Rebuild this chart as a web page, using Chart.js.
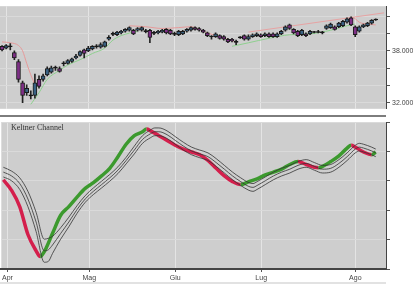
<!DOCTYPE html>
<html>
<head>
<meta charset="utf-8">
<script src="https://cdn.jsdelivr.net/npm/chart.js@4"></script>
<style>
html, body { margin: 0; padding: 0; background: #fff; }
#wrap { position: relative; width: 413px; height: 300px; overflow: hidden; }
#top { position: absolute; left: 0; top: 0; width: 413px; height: 115px; }
#bot { position: absolute; left: 0; top: 115px; width: 413px; height: 185px; }
#kc { position: absolute; left: 11px; top: 123px; font: 8px "Liberation Serif", serif; color: #333; }
</style>
</head>
<body>
<div id="wrap">
  <div id="top"><canvas id="priceChart"></canvas></div>
  <div id="bot"><canvas id="oscChart"></canvas></div>
  <div id="kc">Keltner Channel</div>
</div>
<script>
// month ticks (index of first trading day)
const monthNames = ['Apr', 'Mag', 'Giu', 'Lug', 'Ago'];
const monthStart = [1, 21, 42, 63, 86];

// price axis
const priceTicks = [32, 34, 36, 38, 40, 42];
const priceLabels = [38, 32];

// daily candles (thousands)
const candleOpen = [38.52,38.31,38.52,37.79,36.76,34.28,33.14,32.83,32.83,34.69,
  34.69,35.21,35.52,36.04,35.93,36.55,36.55,36.76,37.17,37.48,
  38.10,38.00,38.21,38.52,38.41,38.52,39.34,39.96,39.86,40.07,
  40.27,40.38,40.38,40.38,40.38,40.27,40.38,40.07,40.07,40.17,
  40.48,40.38,39.96,39.86,39.96,40.27,40.38,40.69,40.59,40.38,
  40.07,39.65,39.65,39.76,39.65,39.34,39.34,39.03,39.55,39.76,
  39.34,39.65,39.76,39.86,39.76,39.96,39.96,39.65,39.96,40.38,
  41.00,40.48,40.27,39.86,39.96,39.96,40.17,40.17,40.12,40.59,
  40.69,40.79,40.79,40.90,41.31,41.83,40.79,40.27,40.79,40.90,
  41.21,41.62];
const candleHigh = [38.62,38.72,38.83,38.00,36.97,34.48,34.07,33.35,35.31,35.10,
  35.31,36.14,36.24,36.24,36.14,36.76,36.97,37.17,37.59,38.00,
  38.21,38.52,38.62,38.72,38.93,39.14,39.76,40.17,40.27,40.38,
  40.59,40.79,40.48,40.69,40.79,40.48,40.48,40.27,40.38,40.48,
  40.59,40.48,40.17,40.38,40.38,40.59,40.79,40.79,40.69,40.48,
  40.17,39.76,40.07,39.86,39.76,39.45,39.45,39.24,39.65,39.86,
  39.86,39.96,40.07,39.96,40.07,40.07,40.07,40.07,40.38,40.90,
  41.10,40.59,40.38,40.48,40.07,40.38,40.27,40.38,40.27,41.00,
  41.21,40.90,41.31,41.52,41.83,41.93,40.90,40.90,41.10,41.31,
  41.62,41.72];
const candleLow = [38.00,38.21,38.10,36.97,34.38,32.00,32.83,32.42,32.52,33.66,
  34.48,35.10,35.42,35.73,35.52,36.24,36.45,36.66,37.07,37.38,
  37.17,37.90,38.10,38.31,38.31,38.41,39.24,39.76,39.76,39.96,
  40.17,40.27,39.86,40.27,40.27,40.07,38.93,39.86,39.96,40.07,
  39.96,39.86,39.76,39.76,39.86,40.17,40.27,40.38,40.27,40.07,
  39.65,39.34,39.55,39.34,39.24,38.93,39.03,38.72,39.45,39.24,
  39.24,39.55,39.65,39.55,39.65,39.55,39.55,39.55,39.86,40.27,
  40.48,39.96,39.65,39.76,39.65,39.86,40.07,40.07,39.96,40.48,
  40.59,40.38,40.69,40.79,41.21,40.90,39.65,40.17,40.69,40.79,
  41.10,41.52];
const candleClose = [38.10,38.62,38.47,37.17,34.69,32.83,33.66,32.78,34.28,33.86,
  35.10,35.93,36.04,35.99,35.62,36.50,36.86,37.07,37.38,37.90,
  37.69,38.31,38.52,38.47,38.72,39.03,39.55,39.91,40.17,40.27,
  40.48,40.69,39.96,40.59,40.69,40.22,39.55,40.02,40.27,40.38,
  40.07,39.96,39.91,40.27,40.27,40.48,40.69,40.48,40.38,40.17,
  39.76,39.60,39.96,39.45,39.34,39.03,39.14,38.98,39.50,39.34,
  39.65,39.86,39.96,39.65,39.96,39.65,39.65,39.96,40.27,40.79,
  40.59,40.07,39.76,40.38,39.76,40.27,40.12,40.12,40.07,40.90,
  41.10,40.48,41.21,41.41,41.72,41.00,39.86,40.79,41.00,41.21,
  41.52,41.57];

// stop lines on the price panel [day, value]
const stopA = [[0,39.03],[2,38.93],[4,38.62],[5,38.00],[6,36.55],[7,35.21],[8,34.07]];
const stopB = [[31,40.90],[35,40.79],[39,40.59],[43,40.69],[46,40.79],[49,40.27],[52,39.76],[55,39.34],[57,39.03]];
const stopC = [[85,41.93],[86,41.72],[87,41.31],[89,41.10],[91,41.00]];
const trendLine = [[60,40.17],[93,42.40]];
const trailA = [[7,31.80],[9,33.14],[11,34.69],[14,35.73],[16,36.35],[19,36.97],[22,37.69],[25,38.31],[27,39.24],[29,39.76],[33,40.27]];
const trailB = [[56,38.52],[60,38.93],[65,39.45],[70,39.86],[75,39.96],[80,40.38],[84,40.90],[86,41.10]];

// keltner panel [day, value]
const kcLine = [[0,6.08],[2,5.36],[4,4.25],[6,2.35],[8,1.24],[9,0.85],[10,1.18],[12,2.42],[14,3.66],[16,4.25],
  [18,4.90],[20,5.49],[22,5.88],[24,6.34],[26,6.86],[28,7.65],[30,8.50],[32,9.08],[34,9.35],[35,9.54],
  [36,9.41],[38,9.08],[40,8.76],[42,8.43],[44,8.17],[46,7.97],[48,7.78],[50,7.39],[52,6.86],[54,6.34],
  [56,5.95],[58,5.75],[60,5.95],[62,6.14],[64,6.41],[66,6.60],[68,6.80],[70,7.12],[72,7.32],[74,7.12],
  [76,6.93],[77,6.90],[78,6.99],[80,7.32],[82,7.71],[84,8.24],[85,8.43],[86,8.30],[88,7.97],[90,7.78],[91,7.97]];
const kcDays = [0,2,4,6,8,10,11,12,14,16,18,20,22,24,26,28,30,32,34,36,37,38,40,42,44,46,48,50,52,54,56,58,60,61,62,64,66,68,70,72,74,76,78,80,82,84,86,87,88,90,91];
const kcUpper = [6.93,6.67,6.21,5.29,3.86,2.03,2.09,2.22,2.81,3.53,4.31,5.00,5.52,5.98,6.44,6.96,7.61,8.37,9.08,9.48,9.61,9.61,9.41,9.02,8.63,8.30,8.10,7.91,7.52,7.06,6.60,6.21,5.88,5.82,5.95,6.27,6.60,6.86,7.06,7.32,7.45,7.25,7.06,7.12,7.45,7.91,8.43,8.56,8.50,8.30,8.17];
const kcMiddle = [6.60,6.34,5.82,4.77,3.20,1.24,1.31,1.63,2.42,3.20,4.05,4.77,5.29,5.75,6.21,6.73,7.39,8.10,8.82,9.22,9.35,9.35,9.15,8.76,8.37,8.04,7.84,7.65,7.25,6.80,6.34,5.95,5.62,5.56,5.69,6.01,6.34,6.60,6.80,7.06,7.19,6.99,6.80,6.86,7.19,7.65,8.17,8.30,8.24,8.04,7.91];
const kcLower = [6.27,6.01,5.42,4.25,2.55,0.46,0.52,1.05,2.03,2.88,3.79,4.54,5.07,5.52,5.98,6.50,7.16,7.84,8.56,8.95,9.08,9.08,8.89,8.50,8.10,7.78,7.58,7.39,6.99,6.54,6.08,5.69,5.36,5.29,5.42,5.75,6.08,6.34,6.54,6.80,6.93,6.73,6.54,6.60,6.93,7.39,7.91,8.04,7.97,7.78,7.65];

Chart.defaults.font.family = '"Liberation Sans", Arial, sans-serif';
Chart.defaults.animation = false;

const plotBg = {
  id: 'plotBg',
  beforeDraw(chart) {
    const { ctx, chartArea: a } = chart;
    ctx.save();
    ctx.fillStyle = '#cecece';
    ctx.fillRect(a.left, a.top, a.right - a.left, a.bottom - a.top);
    ctx.restore();
  }
};

const panelLines = {
  id: 'panelLines',
  afterDraw(chart) {
    const { ctx, chartArea: a } = chart;
    ctx.save();
    ctx.fillStyle = '#7d7d7d';
    ctx.fillRect(0, 0, a.right, 2);
    ctx.fillStyle = '#e2e2e2';
    ctx.fillRect(0, 167, a.right, 2);
    ctx.restore();
  }
};

const toXY = arr => arr.map(([x, y]) => ({ x, y }));
const daysXY = vals => vals.map((y, i) => ({ x: kcDays[i], y }));

function monthAxis(showLabels) {
  return {
    type: 'linear', min: -0.5, max: 93.5, offset: false,
    afterBuildTicks: s => { s.ticks = monthStart.map(v => ({ value: v })); },
    ticks: {
      display: showLabels, autoSkip: false, maxRotation: 0, padding: 2,
      font: { size: 7 }, color: '#444',
      callback: v => monthNames[monthStart.indexOf(v)]
    },
    grid: { offset: false, color: '#e4e4e4', drawTicks: showLabels, tickLength: 3, tickColor: '#555' },
    border: { display: showLabels, color: '#444', width: 2 },
    afterFit: s => { s.height = showLabels ? 31 : 0; }
  };
}

const bodyColor = candleOpen.map((o, i) => {
  const c = candleClose[i];
  if (Math.abs(c - o) < 0.06) return '#111';
  return c > o ? '#3a6283' : '#7e2f86';
});

new Chart(document.getElementById('priceChart'), {
  type: 'bar',
  data: {
    datasets: [
      { type: 'line', data: toXY(stopA), borderColor: '#e79a9a', borderWidth: 1, pointRadius: 0, cubicInterpolationMode: 'monotone', order: 4 },
      { type: 'line', data: toXY(stopB), borderColor: '#e79a9a', borderWidth: 1, pointRadius: 0, cubicInterpolationMode: 'monotone', order: 4 },
      { type: 'line', data: toXY(stopC), borderColor: '#e79a9a', borderWidth: 1, pointRadius: 0, cubicInterpolationMode: 'monotone', order: 4 },
      { type: 'line', data: toXY(trendLine), borderColor: '#e7a3a3', borderWidth: 1, pointRadius: 0, order: 4 },
      { type: 'line', data: toXY(trailA), borderColor: '#8fd08f', borderWidth: 1, pointRadius: 0, cubicInterpolationMode: 'monotone', order: 4 },
      { type: 'line', data: toXY(trailB), borderColor: '#8fd08f', borderWidth: 1, pointRadius: 0, cubicInterpolationMode: 'monotone', order: 4 },
      {
        data: candleLow.map((l, i) => ({ x: i, y: [l, candleHigh[i]] })),
        backgroundColor: '#222', barThickness: 1, grouped: false, order: 3
      },
      {
        data: candleOpen.map((o, i) => ({ x: i, y: [o, candleClose[i]] })),
        backgroundColor: bodyColor, borderColor: '#1a1a1a', borderWidth: 1, borderSkipped: false,
        barThickness: 4, minBarLength: 1, grouped: false, order: 2
      }
    ]
  },
  options: {
    responsive: true, maintainAspectRatio: false,
    layout: { padding: 0 },
    plugins: { legend: { display: false }, tooltip: { enabled: false } },
    scales: {
      x: monthAxis(false),
      y: {
        position: 'right', min: 31.28, max: 43.17,
        afterBuildTicks: s => { s.ticks = priceTicks.map(v => ({ value: v })); },
        ticks: { callback: v => priceLabels.includes(v) ? v.toFixed(3) : '', font: { size: 7 }, color: '#444', padding: 2 },
        grid: { color: '#dadada', tickLength: 4, tickColor: '#555' },
        border: { color: '#444', width: 1 },
        afterFit: s => { s.width = 27; }
      }
    }
  },
  plugins: [plotBg]
});

new Chart(document.getElementById('oscChart'), {
  type: 'line',
  data: {
    datasets: [
      { data: daysXY(kcUpper), borderColor: '#333', borderWidth: 0.8, pointRadius: 0, cubicInterpolationMode: 'monotone' },
      { data: daysXY(kcMiddle), borderColor: '#333', borderWidth: 0.8, pointRadius: 0, cubicInterpolationMode: 'monotone' },
      { data: daysXY(kcLower), borderColor: '#333', borderWidth: 0.8, pointRadius: 0, cubicInterpolationMode: 'monotone' },
      {
        data: toXY(kcLine), borderWidth: 3.5, pointRadius: 0, cubicInterpolationMode: 'monotone',
        borderColor: '#3c9a2e',
        segment: { borderColor: c => c.p1.parsed.y < c.p0.parsed.y ? '#d41f4c' : '#3c9a2e' }
      }
    ]
  },
  options: {
    responsive: true, maintainAspectRatio: false,
    layout: { padding: { top: 1 } },
    plugins: { legend: { display: false }, tooltip: { enabled: false } },
    scales: {
      x: monthAxis(true),
      y: {
        position: 'right', min: 0, max: 10,
        ticks: { stepSize: 1, callback: () => '', padding: 0 },
        grid: { color: '#dadada', tickLength: 4, tickColor: '#555' },
        border: { color: '#444', width: 1 },
        afterFit: s => { s.width = 27; }
      }
    }
  },
  plugins: [plotBg, panelLines]
});
</script>
</body>
</html>
